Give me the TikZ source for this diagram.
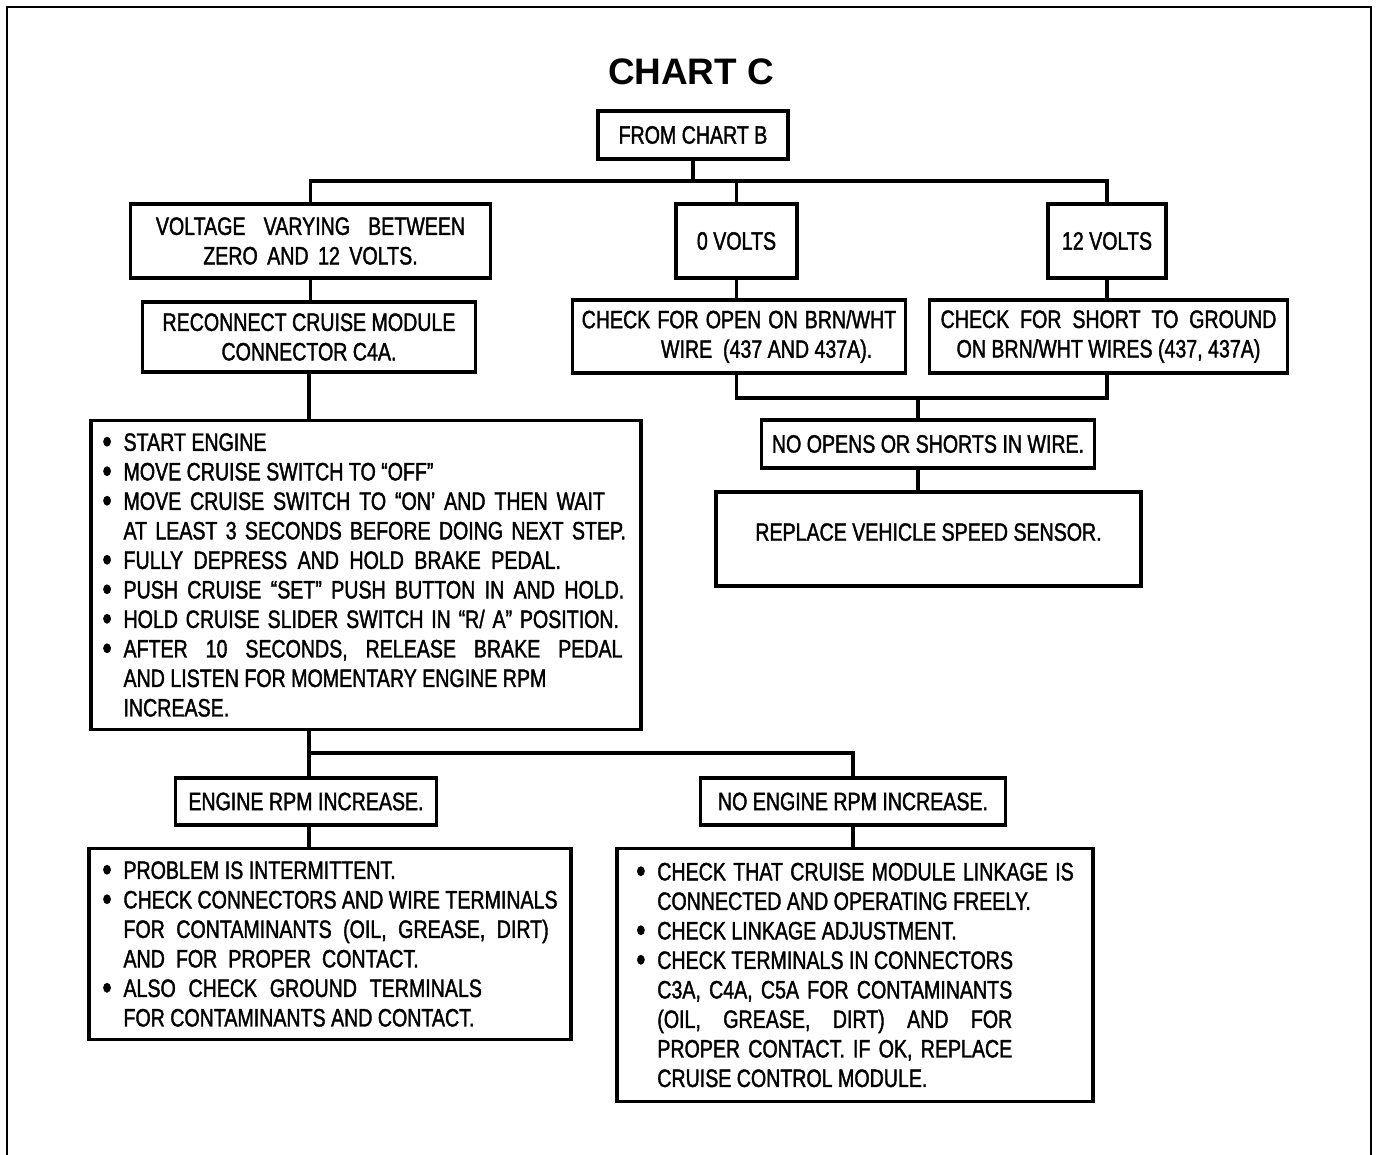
\documentclass[tikz,border=0pt]{standalone}
\usepackage{fontspec}
\setmainfont{Liberation Sans}[FakeStretch=0.78,FakeBold=1.5]
\newfontfamily\titlefont{Liberation Sans}
\newcommand{\bul}{\makebox[12pt][l]{\raisebox{-1.2pt}{\scalebox{1.35}{\textbullet}}}}
\newcommand{\ind}{\hspace*{12pt}}
\newcommand{\spread}[2]{\makebox[#1][s]{#2}}
\begin{document}
\begin{tikzpicture}[line join=miter,x=0.02cm,y=-0.02cm,
	every node/.style={font=\fontsize{14.3}{16.8}\selectfont},
	box/.style={draw,line width=2pt,align=center,inner sep=2pt},
	sz/.style 2 args={minimum width=#1*0.5669pt,minimum height=#2*0.5669pt},
	conn/.style={line width=2pt}]
	\useasboundingbox (0,0) rectangle (1376,1155);
	\draw[line width=1.2pt] (7,1155) -- (7,7) -- (1371,7) -- (1371,1155);
	\node[font=\titlefont\bfseries\fontsize{21}{24}\selectfont] (title) at (691,72) {CHART C};
	\node[box,sz={191}{48}] (chartb) at (693,135) {FROM CHART B};
	\node[box,sz={361}{74}] (volt) at (310.5,241) {\spread{176pt}{VOLTAGE VARYING BETWEEN}\\\spread{122pt}{ZERO AND 12 VOLTS.}};
	\node[box,sz={121}{74}] (zero) at (736.5,241) {0 VOLTS};
	\node[box,sz={118}{74}] (twelve) at (1107,241) {12 VOLTS};
	\node[box,sz={334}{70}] (reconn) at (309,337) {RECONNECT CRUISE MODULE\\CONNECTOR C4A.};
	\node[box,sz={334}{73}] (openchk) at (739,336.5) {\spread{179pt}{CHECK FOR OPEN ON BRN/WHT}\\\hspace*{2.2em}WIRE\ \ (437 AND 437A).};
	\node[box,sz={359}{73}] (shortchk) at (1108.5,336.5) {CHECK\ \ FOR\ \ SHORT\ \ TO\ \ GROUND\\ON BRN/WHT WIRES (437, 437A)};
	\node[box,sz={334}{48}] (noopen) at (928,444) {NO OPENS OR SHORTS IN WIRE.};
	\node[box,sz={427}{94},text depth=8pt] (vss) at (928.5,539) {REPLACE VEHICLE SPEED SENSOR.};
	\node[box,align=flush left,text width=300pt,sz={552}{310}] (steps) at (366,575) {\bul START ENGINE\\
		\bul MOVE CRUISE SWITCH TO ``OFF''\\
		\bul \spread{274pt}{MOVE CRUISE SWITCH TO ``ON' AND THEN WAIT}\\
		\ind \spread{286pt}{AT LEAST 3 SECONDS BEFORE DOING NEXT STEP.}\\
		\bul \spread{249pt}{FULLY DEPRESS AND HOLD BRAKE PEDAL.}\\
		\bul \spread{285pt}{PUSH CRUISE ``SET'' PUSH BUTTON IN AND HOLD.}\\
		\bul \spread{282pt}{HOLD CRUISE SLIDER SWITCH IN ``R/ A'' POSITION.}\\
		\bul \spread{284pt}{AFTER 10 SECONDS, RELEASE BRAKE PEDAL}\\
		\ind AND LISTEN FOR MOMENTARY ENGINE RPM\\
		\ind INCREASE.};
	\node[box,sz={262}{47}] (rpmup) at (306,801.5) {ENGINE RPM INCREASE.};
	\node[box,sz={306}{47}] (norpm) at (853,801.5) {NO ENGINE RPM INCREASE.};
	\node[box,align=left,sz={484}{192}] (intermit) at (330,944) {\bul PROBLEM IS INTERMITTENT.\\
		\bul CHECK CONNECTORS AND WIRE TERMINALS\\
		\ind \spread{242pt}{FOR CONTAMINANTS (OIL, GREASE, DIRT)}\\
		\ind \spread{168pt}{AND FOR PROPER CONTACT.}\\
		\bul \spread{204pt}{ALSO CHECK GROUND TERMINALS}\\
		\ind FOR CONTAMINANTS AND CONTACT.};
	\node[box,align=left,sz={478}{254}] (linkage) at (855,975) {\bul \spread{237pt}{CHECK THAT CRUISE MODULE LINKAGE IS}\\
		\ind CONNECTED AND OPERATING FREELY.\\
		\bul CHECK LINKAGE ADJUSTMENT.\\
		\bul CHECK TERMINALS IN CONNECTORS\\
		\ind \spread{202pt}{C3A, C4A, C5A FOR CONTAMINANTS}\\
		\ind \spread{202pt}{(OIL, GREASE, DIRT) AND FOR}\\
		\ind \spread{202pt}{PROPER CONTACT. IF OK, REPLACE}\\
		\ind CRUISE CONTROL MODULE.};
	\coordinate (busA) at (696,181);
	\coordinate (busB) at (918,398);
	\coordinate (busC) at (309,753);
	\draw[conn] (chartb.south) -- (chartb.south |- busA);
	\draw[conn] (volt.north) |- (busA) -| (twelve.north);
	\draw[conn] (zero.north) -- (zero.north |- busA);
	\draw[conn] (volt.south) -- (volt.south |- reconn.north);
	\draw[conn] (reconn.south) -- (reconn.south |- steps.north);
	\draw[conn] (zero.south) -- (zero.south |- openchk.north);
	\draw[conn] (twelve.south) -- (twelve.south |- shortchk.north);
	\draw[conn] (zero.south |- openchk.south) |- (busB) -| (twelve.south |- shortchk.south);
	\draw[conn] (busB) -- (busB |- noopen.north);
	\draw[conn] (busB |- noopen.south) -- (busB |- vss.north);
	\draw[conn] (busC |- steps.south) -- (busC) -| (norpm.north);
	\draw[conn] (busC) -- (busC |- rpmup.north);
	\draw[conn] (busC |- rpmup.south) -- (busC |- intermit.north);
	\draw[conn] (norpm.south) -- (norpm.south |- linkage.north);
\end{tikzpicture}
\end{document}
